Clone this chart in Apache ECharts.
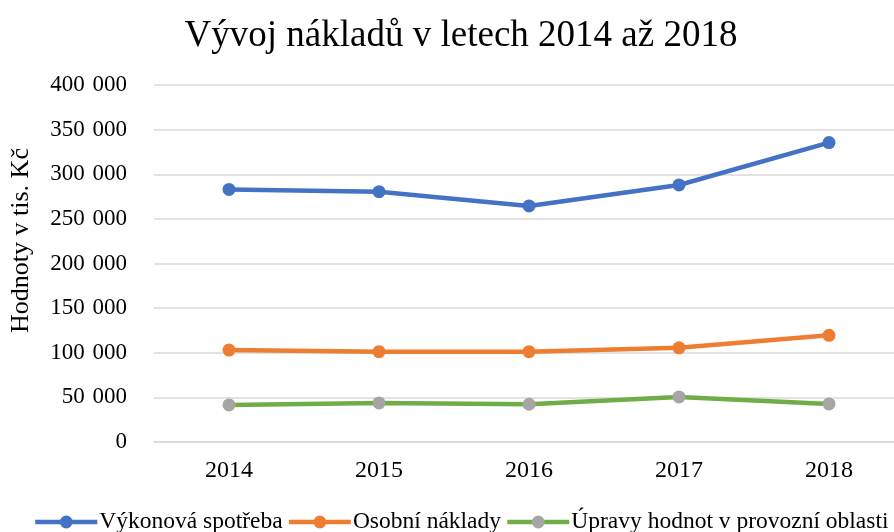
<!DOCTYPE html>
<html><head><meta charset="utf-8">
<script src="https://cdn.jsdelivr.net/npm/echarts@6/dist/echarts.min.js"></script>
<style>html,body{margin:0;padding:0;background:#fff}#c{width:894px;height:532px}</style>
</head><body><div id="c"></div>
<script>
const categories = ['2014','2015','2016','2017','2018'];
const vykonova = [283000, 280500, 264500, 288000, 335500];
const osobni = [103000, 101200, 101200, 105500, 119500];
const upravy = [41500, 43800, 42300, 50500, 42700];
const seriesNames = ['Výkonová spotřeba','Osobní náklady','Úpravy hodnot v provozní oblasti'];
const FONT = '"Liberation Serif", "Times New Roman", serif';
const chart = echarts.init(document.getElementById('c'), null, {renderer:'canvas'});
function fmt(v){ return String(v).replace(/\B(?=(\d{3})+(?!\d))/g, '\u2004'); }
function pairs(arr){ return arr.map((v,i)=>[i,v]); }
function mk(name, data, lineColor, markColor){
  return {name, type:'line', data:pairs(data), symbol:'circle', symbolSize:13,
    lineStyle:{color:lineColor, width:4.5}, itemStyle:{color:markColor}, emphasis:{disabled:true}};
}
chart.setOption({
  animation:false,
  title:{text:'Vývoj nákladů v letech 2014 až 2018', left:456, textAlign:'center', top:13,
    textStyle:{fontFamily:FONT, fontSize:37, fontWeight:'normal', color:'#000'}},
  grid:{left:154, top:85, right:0, bottom:90, containLabel:false},
  legend:{left:33, top:510, padding:0, width:880, itemWidth:62, itemHeight:16, itemGap:4,
    lineStyle:{width:4.5},
    textStyle:{fontFamily:FONT, fontSize:23.5, color:'#000', padding:[0,0,0,-3]},
    data:seriesNames},
  xAxis:{type:'value', min:-0.5, max:4.4333, interval:0.5,
    splitLine:{show:false},
    axisLine:{onZero:false, lineStyle:{color:'#d9d9d9', width:1.5}}, axisTick:{show:false},
    axisLabel:{fontFamily:FONT, fontSize:24, color:'#000', margin:17, showMaxLabel:false,
      formatter:function(v){ return Number.isInteger(v) && categories[v] !== undefined ? categories[v] : ''; }}},
  yAxis:{type:'value', min:0, max:400000, interval:50000,
    name:'Hodnoty v tis. Kč', nameLocation:'middle', nameGap:120, nameRotate:90,
    nameTextStyle:{fontFamily:FONT, fontSize:26, color:'#000', padding:[0,0,0,46]},
    axisLine:{show:false}, axisTick:{show:false},
    splitLine:{lineStyle:{color:'#d9d9d9', width:1.5}},
    axisLabel:{fontFamily:FONT, fontSize:23, color:'#000', margin:27, formatter:fmt}},
  series:[
    mk(seriesNames[0], vykonova, '#4472c4', '#4472c4'),
    mk(seriesNames[1], osobni, '#ed7d31', '#ed7d31'),
    mk(seriesNames[2], upravy, '#70ad47', '#a5a5a5')
  ]
});
</script></body></html>
